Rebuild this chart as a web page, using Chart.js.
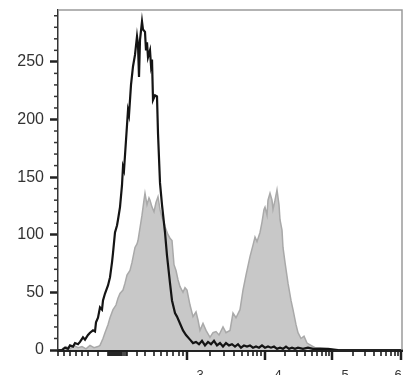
<!DOCTYPE html>
<html>
<head>
<meta charset="utf-8">
<script src="https://cdn.jsdelivr.net/npm/chart.js@4.4.1/dist/chart.umd.min.js"></script>
<style>
    html, body { margin: 0; padding: 0; background: #fff; }
    #wrap { width: 418px; height: 375px; position: relative; }
</style>
</head>
<body>
<div id="wrap"><canvas id="histChart"></canvas></div>
<script>
// channel positions along the (logicle-like) fluorescence axis, and event counts
const blackChannel = [4, 7, 10, 12, 15, 17, 20, 22, 25, 27, 30, 32, 35, 37, 38, 40, 42, 44, 45, 47,
    50, 52, 54, 55, 57, 59, 60, 62, 64, 65, 66, 68, 70, 71, 73, 75, 77, 79, 80, 81,
    82, 84, 85, 87, 88, 89, 90, 92, 93, 94, 95, 97, 99, 100, 102, 104, 107, 109, 112, 114,
    117, 119, 122, 125, 128, 132, 135, 138, 141, 144, 147, 150, 153, 156, 159, 162, 165, 168, 171, 174,
    177, 180, 183, 186, 189, 192, 195, 198, 201, 204, 207, 210, 213, 216, 219, 222, 225, 228, 231, 234,
    237, 240, 245, 250, 255, 260, 270, 280];
const blackCounts = [0, 2, 1, 4, 3, 6, 5, 7, 11, 9, 13, 15, 17, 16, 24, 28, 37, 35, 43, 49,
    56, 63, 76, 84, 102, 108, 113, 124, 143, 159, 156, 182, 208, 204, 230, 246, 256, 272, 265, 237,
    269, 285, 278, 276, 260, 267, 254, 260, 247, 252, 217, 221, 220, 188, 145, 126, 102, 82, 58, 43,
    32, 29, 23, 17, 13, 9, 6, 7, 5, 8, 4, 7, 5, 8, 4, 6, 3, 6, 4, 5,
    3, 5, 2, 4, 3, 4, 2, 3, 2, 4, 2, 3, 2, 3, 1, 2, 1, 3, 1, 2,
    1, 2, 1, 2, 1, 1, 1, 0];

const grayChannel = [4, 8, 12, 16, 20, 24, 28, 32, 36, 40, 42, 45, 47, 50, 52, 55, 58, 60, 62, 65,
    67, 69, 72, 74, 77, 79, 80, 82, 84, 86, 87, 89, 91, 92, 94, 96, 98, 100, 102, 104,
    106, 107, 110, 112, 114, 116, 118, 120, 122, 125, 127, 129, 132, 135, 138, 140, 142, 145, 148, 152,
    155, 158, 161, 165, 168, 172, 175, 178, 182, 185, 188, 192, 195, 197, 199, 202, 204, 206, 207, 209,
    210, 212, 214, 215, 217, 219, 221, 222, 224, 225, 227, 230, 233, 235, 238, 240, 243, 246, 249, 253,
    257, 262, 269, 277];
const grayCounts = [1, 3, 1, 4, 2, 3, 1, 4, 2, 3, 4, 10, 15, 22, 28, 35, 39, 45, 49, 52,
    58, 65, 69, 76, 89, 92, 95, 106, 117, 130, 136, 126, 132, 130, 124, 120, 128, 133, 122, 115,
    111, 107, 100, 97, 95, 74, 69, 61, 55, 50, 54, 52, 39, 29, 33, 26, 17, 23, 17, 11,
    15, 16, 13, 20, 15, 17, 32, 28, 35, 52, 65, 81, 91, 98, 94, 102, 111, 122, 124, 117,
    130, 136, 130, 122, 130, 139, 126, 113, 104, 89, 76, 58, 43, 35, 22, 15, 10, 12, 6, 4,
    2, 2, 1, 0];

const yMax = 295;
const xMax = 344;
// tick positions on the x axis (decades 10^3..10^6 are the major ones)
const xMajorTicks = [129, 207, 274, 344];
const xMajorExponents = ["3", "4", "5", "6"];
const xMinorTicks = [0, 6, 12, 18, 24, 30, 40,
    50, 51, 52, 53, 54, 55, 56, 57, 58, 59, 60, 61, 62, 63, 64, 66, 68, 69,
    79, 87, 96, 103, 109, 115, 121, 125,
    152, 166, 176, 184, 190, 195, 199, 203,
    227, 239, 247, 254, 259, 264, 268, 271,
    295, 307, 316, 323, 328, 333, 337, 340];

const toPoints = (xs, ys) => xs.map((x, i) => ({ x: x, y: ys[i] }));

const axisDecor = {
    id: "axisDecor",
    afterDraw(chart) {
        const ctx = chart.ctx;
        const area = chart.chartArea;
        const xs = chart.scales.x;
        const ys = chart.scales.y;
        ctx.save();

        // light frame on top and right
        ctx.strokeStyle = "#9a9a9a";
        ctx.lineWidth = 1.5;
        ctx.beginPath();
        ctx.moveTo(area.left, area.top);
        ctx.lineTo(area.right, area.top);
        ctx.lineTo(area.right, area.bottom);
        ctx.stroke();

        // minor y ticks every 10
        ctx.strokeStyle = "#333";
        ctx.lineWidth = 1.5;
        for (let v = 10; v < yMax; v += 10) {
            if (v % 50 === 0) continue;
            const py = ys.getPixelForValue(v);
            ctx.beginPath();
            ctx.moveTo(area.left - 4, py);
            ctx.lineTo(area.left, py);
            ctx.stroke();
        }

        // x ticks below the axis
        ctx.strokeStyle = "#1e1e1e";
        ctx.lineWidth = 1.6;
        xMinorTicks.forEach(t => {
            const px = xs.getPixelForValue(t);
            ctx.beginPath();
            ctx.moveTo(px, area.bottom);
            ctx.lineTo(px, area.bottom + 6);
            ctx.stroke();
        });
        ctx.lineWidth = 2.5;
        xMajorTicks.forEach(t => {
            const px = Math.min(xs.getPixelForValue(t), area.right - 1);
            ctx.beginPath();
            ctx.moveTo(px, area.bottom);
            ctx.lineTo(px, area.bottom + 10);
            ctx.stroke();
        });

        // decade labels (mostly below the visible edge)
        ctx.fillStyle = "#333";
        ctx.textBaseline = "top";
        xMajorTicks.forEach((t, i) => {
            let px = xs.getPixelForValue(t) + 13;
            if (px > chart.width - 8) px = chart.width - 20;
            ctx.font = "13px 'Liberation Sans', Arial, sans-serif";
            ctx.textAlign = "center";
            ctx.fillText(xMajorExponents[i], px, 369);
            ctx.font = "16px 'Liberation Sans', Arial, sans-serif";
            ctx.textAlign = "right";
            ctx.fillText("10", px - 5, 378);
        });
        ctx.restore();
    }
};

new Chart(document.getElementById("histChart"), {
    type: "line",
    data: {
        datasets: [
            {
                label: "Control",
                data: toPoints(blackChannel, blackCounts),
                borderColor: "#141414",
                borderWidth: 2.2,
                fill: false,
                pointRadius: 0,
                tension: 0,
            },
            {
                label: "Stained",
                data: toPoints(grayChannel, grayCounts),
                borderColor: "#a9a9a9",
                backgroundColor: "#c8c8c8",
                borderWidth: 1.5,
                fill: "origin",
                pointRadius: 0,
                tension: 0,
            },
        ]
    },
    options: {
        responsive: true,
        maintainAspectRatio: false,
        animation: false,
        layout: { padding: { top: 10, right: 16, left: 0, bottom: 0 } },
        plugins: {
            legend: { display: false },
            tooltip: { enabled: false },
        },
        scales: {
            x: {
                type: "linear",
                min: 0,
                max: xMax,
                grid: { display: false },
                ticks: { display: false },
                border: { display: true, color: "#222", width: 3 },
                afterFit: (scale) => { scale.height = 25; },
            },
            y: {
                min: 0,
                max: yMax,
                grid: {
                    drawOnChartArea: false,
                    tickLength: 8,
                    tickWidth: 2.5,
                    tickColor: "#222",
                },
                border: { display: true, color: "#333", width: 1.5 },
                ticks: {
                    stepSize: 50,
                    padding: 6,
                    color: "#333",
                    font: { size: 16, family: "'Liberation Sans', Arial, sans-serif" },
                },
                afterBuildTicks: (scale) => {
                    scale.ticks = scale.ticks.filter(t => t.value % 50 === 0);
                },
                afterFit: (scale) => {
                    scale.width = 58;
                    scale.paddingTop = 0;
                    scale.paddingBottom = 0;
                },
            },
        }
    },
    plugins: [axisDecor],
});
</script>
</body>
</html>
